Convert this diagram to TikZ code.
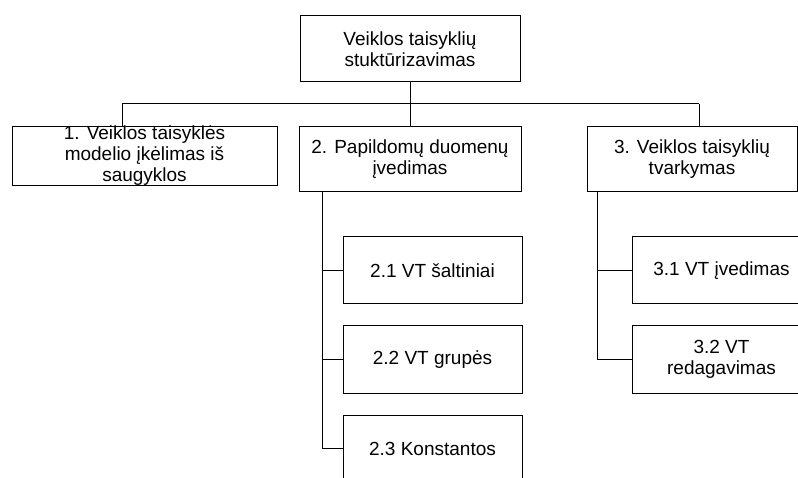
\documentclass[tikz,border=0pt]{standalone}
\usepackage{fontspec}
\setmainfont{Liberation Sans}
\begin{document}
\begin{tikzpicture}[x=1pt,y=-1pt,line width=1pt,
   box/.style={rectangle,draw,align=center,inner sep=0pt,font=\fontsize{19}{21}\selectfont},
   sub/.style={box,minimum width=179pt,minimum height=67pt}]
   \path[use as bounding box,clip] (0,0) rectangle (798,478);
   % top level
   \node[box,minimum width=220pt,minimum height=66pt] (root) at (410,49) {Veiklos taisyklių\\stuktūrizavimas};
   \node[box,minimum width=265pt,minimum height=58pt] (b1) at (144.5,156) {1. Veiklos taisyklės\\modelio įkėlimas iš\\saugyklos};
   \node[box,minimum width=222pt,minimum height=65pt] (b2) at (410,159.5) {2. Papildomų duomenų\\įvedimas};
   \node[box,minimum width=210pt,minimum height=65pt] (b3) at (692,159.5) {3. Veiklos taisyklių\\tvarkymas};
   \coordinate (busl) at (122,104);
   \coordinate (busr) at (699,104);
   \draw (root.south) -- (root.south |- busl);
   \draw (busl) -- (busr);
   \draw (busl) -- (busl |- b1.north);
   \draw (root.south |- busl) -- (b2.north);
   \draw (busr) -- (busr |- b3.north);
   % second level
   \foreach \n/\y/\l in
     {21/270.5/{2.1 VT šaltiniai},
      22/359.5/{2.2 VT grupės},
      23/448.5/{2.3 Konstantos}}
     \node[sub] (s\n) at (432.5,\y) {\l};
   \foreach \n/\y/\l in
     {31/270.5/{3.1 VT įvedimas},
      32/359.5/{3.2 VT\\redagavimas}}
     \node[sub] (s\n) at (721.5,\y) {\l};
   \coordinate (t2) at (322,192);
   \coordinate (t3) at (597,192);
   \foreach \n in {21,22,23}
     \draw (t2) |- (s\n.west);
   \foreach \n in {31,32}
     \draw (t3) |- (s\n.west);
\end{tikzpicture}
\end{document}
